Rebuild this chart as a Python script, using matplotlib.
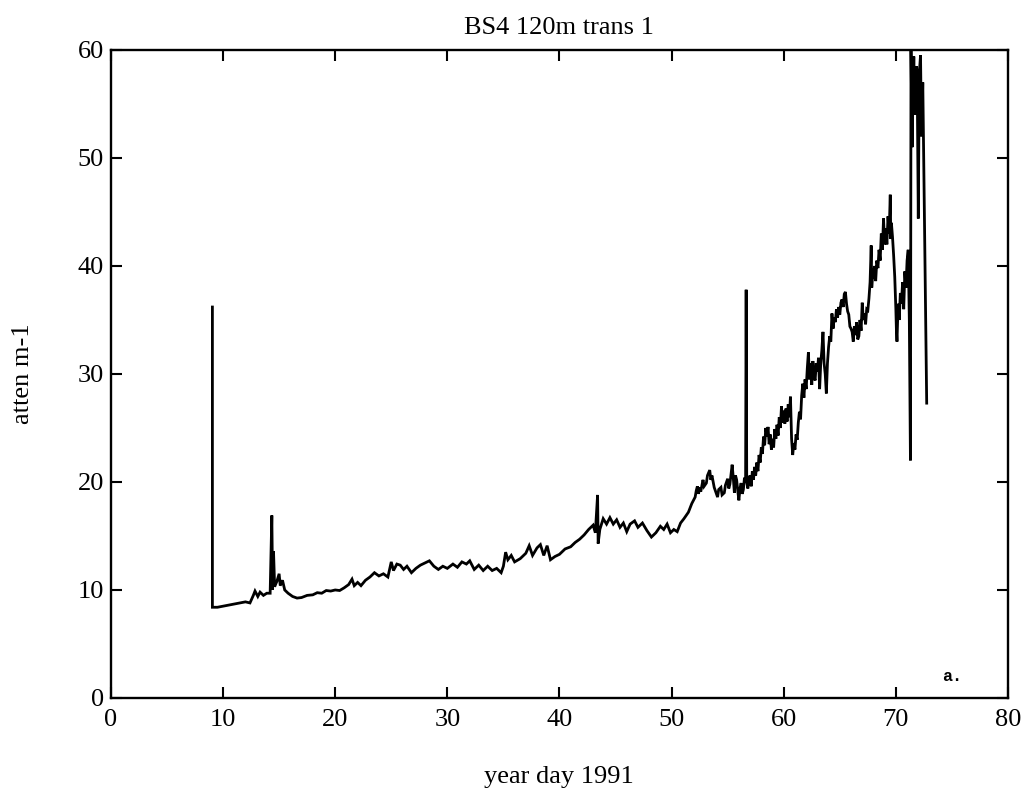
import matplotlib
matplotlib.use("Agg")
import matplotlib.pyplot as plt

# Beam attenuation at 120 m, transmissometer 1 (values per year day)
YEAR_DAY = [
    9.05, 9.05, 9.5, 10.0, 10.5, 11.0, 11.5, 12.0, 12.4,
    12.7, 12.85, 13.1, 13.3, 13.6, 13.9, 14.2, 14.35, 14.42, 14.5,
    14.6, 14.8, 15.0, 15.1, 15.3, 15.5, 15.8, 16.2, 16.6, 17.0,
    17.5, 18.0, 18.4, 18.8, 19.2, 19.6, 20.0, 20.4, 20.8, 21.2,
    21.5, 21.7, 22.0, 22.3, 22.7, 23.1, 23.5, 23.9, 24.3, 24.7,
    25.0, 25.2, 25.5, 25.8, 26.1, 26.4, 26.8, 27.2, 27.6, 28.0,
    28.4, 28.8, 29.2, 29.6, 30.0, 30.5, 30.9, 31.3, 31.7, 32.0,
    32.4, 32.8, 33.2, 33.6, 34.0, 34.4, 34.8, 35.0, 35.2, 35.4,
    35.7, 36.0, 36.5, 37.0, 37.3, 37.6, 38.0, 38.3, 38.6, 38.9,
    39.2, 39.6, 40.0, 40.5, 41.0, 41.4, 41.8, 42.2, 42.6, 43.0,
    43.2, 43.4, 43.45, 43.6, 43.9, 44.2, 44.5, 44.8, 45.1, 45.4,
    45.7, 46.0, 46.3, 46.7, 47.0, 47.4, 47.8, 48.2, 48.6, 49.0,
    49.3, 49.6, 49.9, 50.2, 50.5, 50.8, 51.1, 51.5, 51.8, 52.1,
    52.2, 52.3, 52.4, 52.5, 52.6, 52.8, 52.9, 53.1, 53.2, 53.4,
    53.5, 53.6, 53.8, 53.9, 54.1, 54.2, 54.4, 54.5, 54.7, 54.8,
    55.0, 55.1, 55.2, 55.4, 55.5, 55.6, 55.7, 55.8, 55.9, 56.0,
    56.1, 56.2, 56.3, 56.4, 56.5, 56.6, 56.65, 56.7, 56.8, 56.9,
    57.0, 57.1, 57.2, 57.3, 57.4, 57.5, 57.6, 57.7, 57.8, 57.9,
    58.0, 58.1, 58.2, 58.3, 58.4, 58.5, 58.6, 58.7, 58.8, 58.9,
    59.0, 59.1, 59.2, 59.3, 59.4, 59.5, 59.6, 59.7, 59.8, 59.9,
    60.0, 60.1, 60.2, 60.3, 60.4, 60.5, 60.6, 60.7, 60.8, 60.9,
    61.0, 61.1, 61.2, 61.3, 61.4, 61.5, 61.6, 61.7, 61.8, 61.9,
    62.0, 62.1, 62.2, 62.3, 62.4, 62.5, 62.6, 62.7, 62.8, 62.9,
    63.0, 63.1, 63.2, 63.3, 63.4, 63.5, 63.6, 63.7, 63.8, 63.9,
    64.0, 64.1, 64.2, 64.3, 64.4, 64.5, 64.6, 64.7, 64.8, 64.9,
    65.0, 65.1, 65.2, 65.3, 65.4, 65.5, 65.6, 65.7, 65.8, 65.9,
    66.0, 66.1, 66.2, 66.3, 66.4, 66.5, 66.6, 66.7, 66.8, 66.9,
    67.0, 67.1, 67.2, 67.3, 67.4, 67.5, 67.6, 67.7, 67.8, 67.85,
    67.9, 68.0, 68.1, 68.2, 68.3, 68.4, 68.5, 68.6, 68.7, 68.8,
    68.9, 69.0, 69.1, 69.2, 69.3, 69.4, 69.5, 69.55, 69.6, 69.7,
    69.8, 69.9, 70.0, 70.05, 70.1, 70.2, 70.3, 70.4, 70.5, 70.6,
    70.7, 70.8, 70.9, 71.0, 71.1, 71.2, 71.3, 71.35, 71.45, 71.5,
    71.6, 71.7, 71.75, 71.85, 71.9, 72.0, 72.05, 72.1, 72.2, 72.25,
    72.3, 72.4, 72.75,
]
ATTEN = [
    36.2, 8.4, 8.4, 8.5, 8.6, 8.7, 8.8, 8.9, 8.8,
    9.5, 9.9, 9.4, 9.8, 9.5, 9.7, 9.7, 16.9, 10.0, 13.6,
    10.3, 10.8, 11.5, 10.4, 10.9, 10.0, 9.7, 9.4, 9.25, 9.3,
    9.5, 9.55, 9.75, 9.7, 9.95, 9.9, 10.0, 9.95, 10.2, 10.5,
    11.0, 10.4, 10.7, 10.4, 10.9, 11.2, 11.6, 11.3, 11.5, 11.2,
    12.6, 11.8, 12.4, 12.3, 11.9, 12.2, 11.6, 12.0, 12.3, 12.5,
    12.7, 12.2, 11.9, 12.2, 12.0, 12.4, 12.1, 12.6, 12.4, 12.7,
    11.9, 12.3, 11.8, 12.2, 11.8, 12.0, 11.6, 12.2, 13.5, 12.8,
    13.2, 12.6, 12.9, 13.4, 14.1, 13.2, 13.9, 14.2, 13.2, 14.1,
    12.8, 13.1, 13.3, 13.8, 14.0, 14.4, 14.7, 15.1, 15.6, 16.0,
    15.3, 18.8, 14.3, 15.6, 16.6, 16.1, 16.7, 16.1, 16.5, 15.8,
    16.2, 15.4, 16.1, 16.4, 15.8, 16.2, 15.5, 14.9, 15.3, 15.9,
    15.6, 16.1, 15.3, 15.6, 15.4, 16.2, 16.6, 17.2, 18.0, 18.6,
    19.2, 19.6, 18.9, 19.5, 19.1, 20.2, 19.6, 19.9, 20.6, 21.1,
    20.2, 20.6, 19.5, 19.2, 18.6, 19.3, 19.5, 18.8, 19.0, 19.7,
    20.3, 19.4, 19.8, 21.6, 20.4, 19.0, 20.6, 20.2, 19.2, 18.3,
    19.4, 19.9, 18.9, 19.3, 20.4, 20.2, 37.8, 20.0, 19.4, 20.3,
    20.6, 19.6, 21.0, 20.2, 21.4, 20.6, 21.8, 21.0, 22.5, 21.8,
    23.2, 22.6, 24.2, 23.4, 25.0, 24.2, 25.1, 23.5, 24.4, 23.0,
    24.0, 23.2, 24.9, 24.0, 25.3, 24.3, 26.0, 25.0, 27.0, 25.5,
    26.6, 25.4, 26.8, 25.6, 27.2, 26.0, 27.9, 24.0, 22.5, 23.6,
    23.0, 24.4, 23.9, 25.5, 26.5, 25.8, 28.0, 29.1, 27.8, 29.5,
    28.6, 30.5, 32.0, 29.5, 31.0, 29.0, 31.2, 29.8, 29.4, 31.0,
    30.2, 31.5, 28.6, 31.0, 32.2, 33.9, 31.0, 30.0, 28.2, 31.0,
    32.5, 33.5, 33.0, 35.6, 34.2, 35.2, 34.8, 36.0, 35.2, 36.2,
    35.5, 36.6, 36.9, 36.2, 37.4, 37.6, 36.5, 35.8, 35.5, 34.4,
    34.2, 33.9, 33.0, 34.4, 33.6, 34.8, 33.2, 33.5, 35.0, 34.0,
    36.6, 35.0, 35.6, 34.6, 36.0, 35.9, 37.0, 38.5, 41.9, 38.0,
    38.8, 39.0, 40.0, 38.6, 40.5, 39.8, 41.5, 40.5, 43.0, 41.5,
    44.4, 42.0, 43.5, 42.0, 44.6, 43.0, 46.6, 42.5, 44.0, 42.7,
    41.0, 39.0, 36.0, 34.0, 33.0, 36.5, 35.0, 37.5, 36.5, 38.5,
    36.0, 39.5, 38.0, 40.5, 41.5, 35.0, 22.0, 60.0, 51.0, 55.0,
    59.4, 54.0, 56.3, 58.5, 57.5, 44.4, 52.0, 58.0, 59.5, 55.0,
    52.0, 57.0, 27.3,
]

X_TICKS = [0, 10, 20, 30, 40, 50, 60, 70, 80]
Y_TICKS = [0, 10, 20, 30, 40, 50, 60]

plt.rcParams["font.family"] = "Liberation Serif"
FS = 19

fig = plt.figure(figsize=(10.27, 7.91), dpi=100)
ax = fig.add_axes([0.108, 0.1176, 0.8735, 0.8192])

ax.plot(YEAR_DAY, ATTEN, color="black", lw=2.0, solid_joinstyle="miter")

ax.set_xlim(0, 80)
ax.set_ylim(0, 60)
ax.set_xticks(X_TICKS)
ax.set_yticks(Y_TICKS)
ax.tick_params(direction="in", length=8, width=1.5, top=True, right=True,
               labelsize=FS, colors="black")
ax.tick_params(axis="x", pad=8)
ax.tick_params(axis="y", pad=5)
for sp in ax.spines.values():
    sp.set_linewidth(1.7)

ax.text(75.0, 2.0, "a.", family="Liberation Mono", weight="bold",
        fontsize=12, ha="center", va="center")

fig.text(0.5445, 1 - 34 / 791, "BS4 120m trans 1", ha="center",
         va="baseline", fontsize=FS)
fig.text(0.5445, 1 - 783 / 791, "year day 1991", ha="center",
         va="baseline", fontsize=FS)
fig.text(0.0224, 0.527, "atten m-1", rotation=90, ha="center",
         va="center", fontsize=FS)

fig.savefig("out.png", dpi=100)
